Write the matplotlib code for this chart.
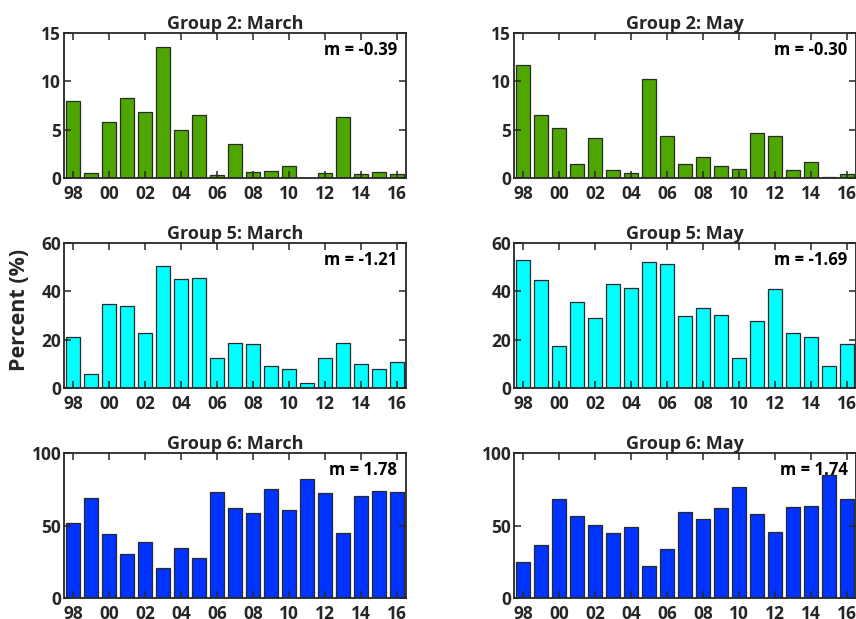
import numpy as np
import matplotlib
matplotlib.use('Agg')
import matplotlib.pyplot as plt

years = np.arange(1998, 2017)
year_labels = ['98', '00', '02', '04', '06', '08', '10', '12', '14', '16']

# Group 2
g2_march = [8.0, 0.48, 5.8, 8.3, 6.87, 13.6, 4.98, 6.5, 0.34, 3.5,
            0.65, 0.7, 1.2, 0.05, 0.55, 6.3, 0.45, 0.65, 0.38]
g2_may = [11.7, 6.55, 5.15, 1.44, 4.19, 0.86, 0.51, 10.26, 4.36, 1.44,
          2.16, 1.27, 0.96, 4.7, 4.36, 0.82, 1.65, 0.14, 0.41]
# Group 5
g5_march = [20.9, 5.8, 34.9, 33.9, 22.8, 50.4, 44.9, 45.5, 12.4, 18.5,
            18.4, 9.2, 8.0, 1.9, 12.6, 18.5, 9.9, 7.8, 10.7]
g5_may = [52.9, 44.6, 17.3, 35.6, 28.8, 42.9, 41.5, 52.1, 51.2, 29.8,
          33.1, 30.4, 12.5, 27.6, 41.1, 22.7, 21.2, 9.1, 18.1]
# Group 6
g6_march = [51.7, 69.1, 44.4, 30.4, 38.9, 20.4, 34.8, 27.7, 72.8, 61.8,
            58.6, 75.1, 60.6, 81.9, 72.1, 44.9, 70.5, 73.7, 72.8]
g6_may = [24.5, 36.8, 68.6, 56.3, 50.1, 45.1, 49.0, 22.4, 33.6, 59.3,
          54.5, 62.1, 76.7, 57.7, 45.8, 62.5, 63.6, 84.9, 68.4]

slopes = ['m = -0.39', 'm = -0.30', 'm = -1.21', 'm = -1.69', 'm = 1.78', 'm = 1.74']
titles = ['Group 2: March', 'Group 2: May', 'Group 5: March', 'Group 5: May',
          'Group 6: March', 'Group 6: May']
series = [g2_march, g2_may, g5_march, g5_may, g6_march, g6_may]
colors = ['#4ea600', '#4ea600', '#00ffff', '#00ffff', '#0033ff', '#0033ff']
ylims = [15, 15, 60, 60, 100, 100]
yticks = [[0, 5, 10, 15], [0, 5, 10, 15], [0, 20, 40, 60], [0, 20, 40, 60],
          [0, 50, 100], [0, 50, 100]]

txt = '#262626'
plt.rcParams['font.family'] = ['Open Sans', 'DejaVu Sans']
plt.rcParams['font.weight'] = 'bold'

fig = plt.figure(figsize=(8.56, 6.19), dpi=100)
lefts = [0.0748, 0.6005]
bottoms = [0.7124, 0.3732, 0.0339]
w = 0.3995
h = 0.2343

for i in range(6):
    r, c = i // 2, i % 2
    ax = fig.add_axes([lefts[c], bottoms[r], w, h])
    ax.bar(years, series[i], width=0.8, color=colors[i], edgecolor='#2a2a2a', linewidth=0.9)
    ax.set_xlim(1997.5, 2016.5)
    ax.set_ylim(0, ylims[i])
    ax.set_yticks(yticks[i])
    ax.set_xticks(years[::2])
    ax.set_xticklabels(year_labels)
    ax.tick_params(direction='in', top=True, right=True, length=5, width=1.1,
                   labelsize=12.5, colors=txt)
    ax.tick_params(axis='x', pad=5)
    ax.tick_params(axis='y', pad=2)
    for lab in ax.get_xticklabels() + ax.get_yticklabels():
        lab.set_fontweight('bold')
        lab.set_color(txt)
    for s in ax.spines.values():
        s.set_linewidth(1.3)
        s.set_color(txt)
    ax.set_title(titles[i], fontsize=13, fontweight='bold', color=txt, pad=3)
    ax.text(0.975, 0.88, slopes[i], transform=ax.transAxes, ha='right', va='center',
            fontsize=12, fontweight='bold', color='black')

fig.text(0.023, 0.5, 'Percent (%)', rotation=90, ha='center', va='center',
         fontsize=15.5, fontweight='bold', color=txt)

plt.savefig('out.png', dpi=100)
